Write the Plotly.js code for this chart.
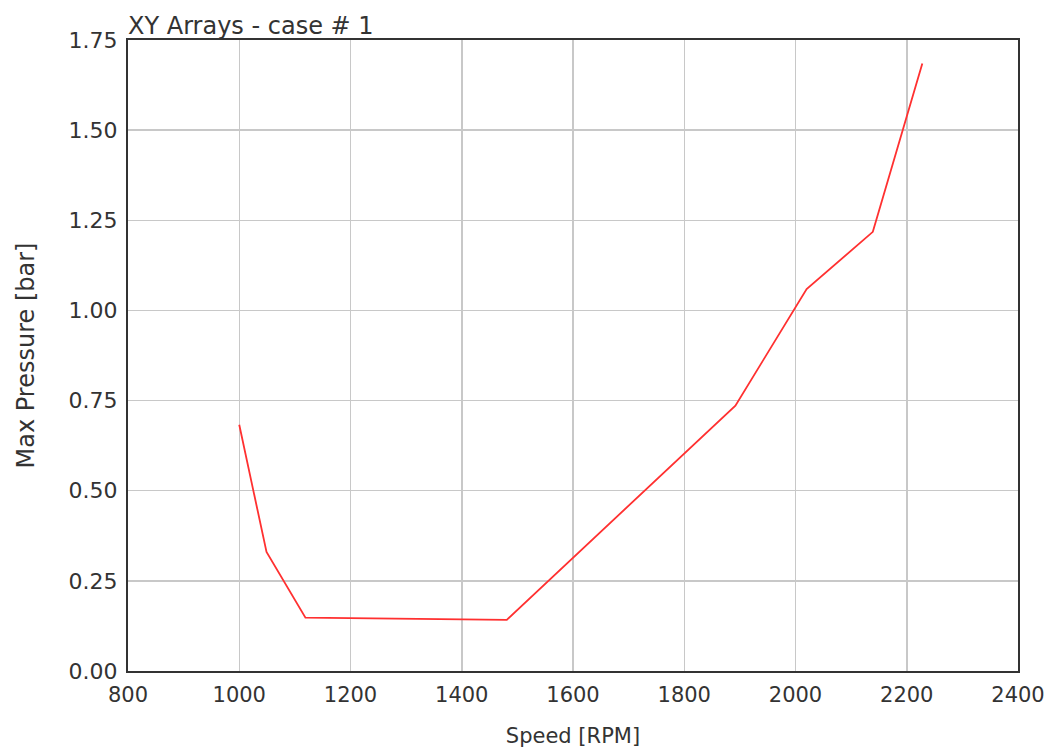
<!DOCTYPE html>
<html>
<head>
<meta charset="utf-8">
<script src="https://cdn.plot.ly/plotly-3.0.1.min.js"></script>
<style>html,body{margin:0;padding:0;background:#fff;}#chart{width:1054px;height:751px;}</style>
</head>
<body>
<div id="chart"></div>
<script>
const speedRPM = [1000, 1049, 1119, 1481, 1892, 2020, 2139, 2228];
const maxPressure = [0.683, 0.33, 0.148, 0.142, 0.736, 1.059, 1.218, 1.685];
const xTicks = [800, 1000, 1200, 1400, 1600, 1800, 2000, 2200, 2400];
const yTicks = [0, 0.25, 0.5, 0.75, 1.0, 1.25, 1.5, 1.75];
const yTickLabels = ["0.00", "0.25", "0.50", "0.75", "1.00", "1.25", "1.50", "1.75"];

const fam = "DejaVu Sans, Verdana, sans-serif";
const txt = "#333";

Plotly.newPlot("chart", [{
  x: speedRPM, y: maxPressure, type: "scatter", mode: "lines",
  line: {color: "#ff3030", width: 1.8}, hoverinfo: "x+y"
}], {
  width: 1054, height: 751,
  margin: {l: 128, r: 36, t: 40, b: 80},
  paper_bgcolor: "#fff", plot_bgcolor: "#fff",
  font: {family: fam, color: txt, size: 21},
  showlegend: false,
  title: {text: "XY Arrays - case # 1", x: 0, xref: "paper", xanchor: "left", y: 1, yref: "paper", yanchor: "bottom", pad: {b: 6, l: 0}, font: {size: 24, color: txt, family: fam}},
  xaxis: {
    range: [800, 2400], tickvals: xTicks, ticktext: xTicks.map(String),
    showgrid: true, gridcolor: "#c8c8c8", gridwidth: 1.5,
    showline: true, linecolor: "#333", linewidth: 2, mirror: true,
    ticks: "", zeroline: false, ticklabelstandoff: 4, tickfont: {size: 21, color: txt, family: fam},
    title: {text: "Speed [RPM]", standoff: 22, font: {size: 21, color: txt, family: fam}}
  },
  yaxis: {
    range: [0, 1.75], tickvals: yTicks, ticktext: yTickLabels,
    showgrid: true, gridcolor: "#c8c8c8", gridwidth: 1.5,
    showline: true, linecolor: "#333", linewidth: 2, mirror: true,
    ticks: "", zeroline: false, ticklabelstandoff: 4, tickfont: {size: 22, color: txt, family: fam},
    title: {text: "Max Pressure [bar]", standoff: 27, font: {size: 24, color: txt, family: fam}}
  }
}, {displayModeBar: false, staticPlot: true});
</script>
</body>
</html>
